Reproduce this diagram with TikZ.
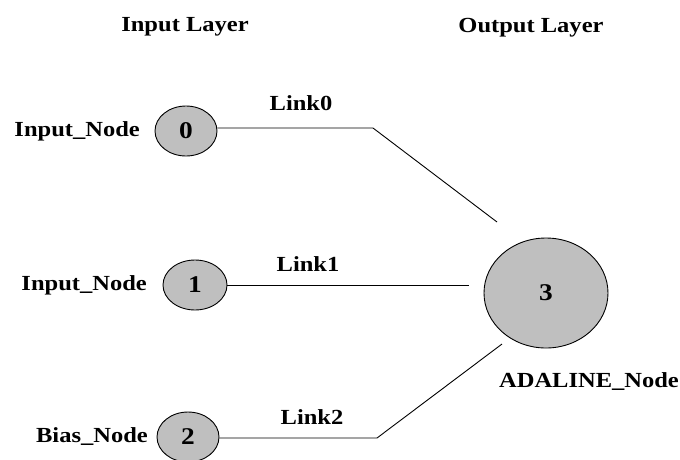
\documentclass[tikz,border=0pt]{standalone}
\usepackage{fontspec}
\setmainfont{Liberation Serif}[FakeStretch=1.14]
\usetikzlibrary{shapes.geometric}
\begin{document}
\begin{tikzpicture}[x=1pt,y=-1pt,
  neuron/.style={draw=black, line width=0.9pt, fill=black!25, ellipse, inner sep=0pt},
  txt/.style={font=\bfseries\fontsize{21.5}{24}\selectfont, inner sep=0pt},
  digit/.style={font=\bfseries\fontsize{24}{26}\selectfont, inner sep=0pt},
  link/.style={draw=black, line width=0.9pt}]
\useasboundingbox (0,0) rectangle (680,459);
% layer headings
\node[txt] (hin) at (185,27) {Input Layer};
\node[txt] (hout) at (531,28) {Output Layer};
% neurons
\node[neuron, minimum width=62pt, minimum height=50pt] (n0) at (186,131) {};
\node[neuron, minimum width=64pt, minimum height=50pt] (n1) at (195,285) {};
\node[neuron, minimum width=62pt, minimum height=50pt] (n2) at (188,437) {};
\node[neuron, minimum width=124pt, minimum height=110pt] (n3) at (546,293) {};
\node[digit] at (n0) {0};
\node[digit] at (n1) {1};
\node[digit] at (n2) {2};
\node[digit] at (n3) {3};
% node names
\node[txt, anchor=east] (l0) at (140,131) {Input\_Node};
\node[txt, anchor=east] (l1) at (147,285) {Input\_Node};
\node[txt, anchor=east] (l2) at (148,437) {Bias\_Node};
\node[txt] (l3) at (589,382) {ADALINE\_Node};
% links
\coordinate (b0) at (373,128);
\coordinate (e0) at (497,222);
\coordinate (e1) at (469,285);
\coordinate (b2) at (377,438);
\coordinate (e2) at (502,344);
\draw[link] (n0.east |- b0) -- (b0) -- (e0);
\draw[link] (n1.east) -- (e1);
\draw[link] (n2.east |- b2) -- (b2) -- (e2);
\node[txt] (k0) at (301,103) {Link0};
\node[txt] (k1) at (308,264) {Link1};
\node[txt] (k2) at (312,417) {Link2};
\end{tikzpicture}
\end{document}
